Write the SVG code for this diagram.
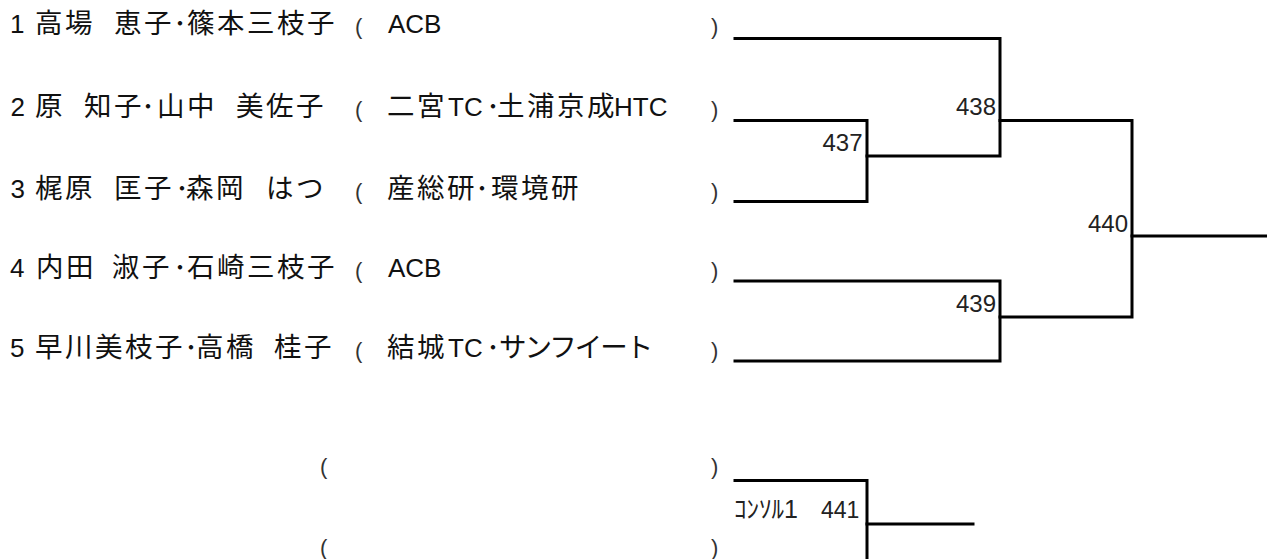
<svg xmlns="http://www.w3.org/2000/svg" width="1267" height="559" viewBox="0 0 1267 559">
<style>
text{font-family:"Liberation Sans","Noto Sans CJK JP",sans-serif;fill:#111}
.row{font-size:26px}
.cj{font-size:27.5px;letter-spacing:2.5px}
.ka{font-size:27.5px;letter-spacing:-2px}
.par{font-size:22px;fill:#333}
.num{font-size:24px;text-anchor:end;fill:#222}
.con{font-size:23px;fill:#222}
.ln{fill:none;stroke:#000;stroke-width:3;stroke-linecap:square;stroke-linejoin:miter}
</style>
<rect width="1267" height="559" fill="#fff"/>
<g id="entry1">
<text class="row" y="33"><tspan x="10">1 </tspan><tspan class="cj" x="35">高場 </tspan><tspan class="cj" x="114">恵子</tspan><tspan x="173.5">･</tspan><tspan class="cj" x="187">篠本三枝子</tspan></text>
<text class="par" x="355" y="34">(</text>
<text class="row" x="388" y="33">ACB</text>
<text class="par" x="711" y="34">)</text>
</g>
<g id="entry2">
<text class="row" y="116"><tspan x="10.5">2 </tspan><tspan class="cj" x="35">原 </tspan><tspan class="cj" x="84">知子</tspan><tspan x="141.5">･</tspan><tspan class="cj" x="157">山中 </tspan><tspan class="cj" x="236">美佐子</tspan></text>
<text class="par" x="355" y="117">(</text>
<text class="row" y="116"><tspan class="cj" x="387">二宮</tspan><tspan x="448">TC</tspan><tspan x="486.5">･</tspan><tspan class="cj" x="497">土浦京成</tspan><tspan x="614">HTC</tspan></text>
<text class="par" x="711" y="117">)</text>
</g>
<g id="entry3">
<text class="row" y="198"><tspan x="10.5">3 </tspan><tspan class="cj" x="35">梶原 </tspan><tspan class="cj" x="114">匡子</tspan><tspan x="175.5">･</tspan><tspan class="cj" x="186">森岡 </tspan><tspan class="cj" x="266">はつ</tspan></text>
<text class="par" x="355" y="199">(</text>
<text class="row" y="198"><tspan class="cj" x="387">産総研</tspan><tspan x="475.5">･</tspan><tspan class="cj" x="491">環境研</tspan></text>
<text class="par" x="711" y="199">)</text>
</g>
<g id="entry4">
<text class="row" y="277"><tspan x="10">4 </tspan><tspan class="cj" x="36">内田 </tspan><tspan class="cj" x="112">淑子</tspan><tspan x="173.5">･</tspan><tspan class="cj" x="187">石崎三枝子</tspan></text>
<text class="par" x="355" y="278">(</text>
<text class="row" x="388" y="277">ACB</text>
<text class="par" x="711" y="278">)</text>
</g>
<g id="entry5">
<text class="row" y="357"><tspan x="10">5 </tspan><tspan class="cj" x="35">早川美枝子</tspan><tspan x="184.5">･</tspan><tspan class="cj" x="196">高橋 </tspan><tspan class="cj" x="274">桂子</tspan></text>
<text class="par" x="355" y="358">(</text>
<text class="row" y="357"><tspan class="cj" x="387">結城</tspan><tspan x="448">TC</tspan><tspan x="486.5">･</tspan><tspan class="ka" x="499">サンフイート</tspan></text>
<text class="par" x="711" y="358">)</text>
</g>
<g id="entry6">
<text class="par" x="320" y="474">(</text>
<text class="par" x="711" y="474">)</text>
</g>
<g id="entry7">
<text class="par" x="320" y="555">(</text>
<text class="par" x="711" y="555">)</text>
</g>
<g id="m437"><text class="num" x="862.5" y="151">437</text></g>
<g id="m438"><text class="num" x="996" y="115">438</text></g>
<g id="m439"><text class="num" x="996" y="312">439</text></g>
<g id="m440"><text class="num" x="1128" y="231.5">440</text></g>
<g id="m441"><text class="con" y="518"><tspan x="734" font-size="25">ｺﾝｿﾙ1 </tspan><tspan x="821">441</tspan></text></g>
<g id="connectors">
<path class="ln" d="M735 38.5H1000V156H867"/>
<path class="ln" d="M735 120.5H867V201.5H735"/>
<path class="ln" d="M1000 120.5H1132V317H1000"/>
<path class="ln" d="M735 281H1000V361H735"/>
<path class="ln" d="M1132 236H1268"/>
<path class="ln" d="M735 480.5H867V562"/>
<path class="ln" d="M867 524H973"/>
</g>
</svg>
